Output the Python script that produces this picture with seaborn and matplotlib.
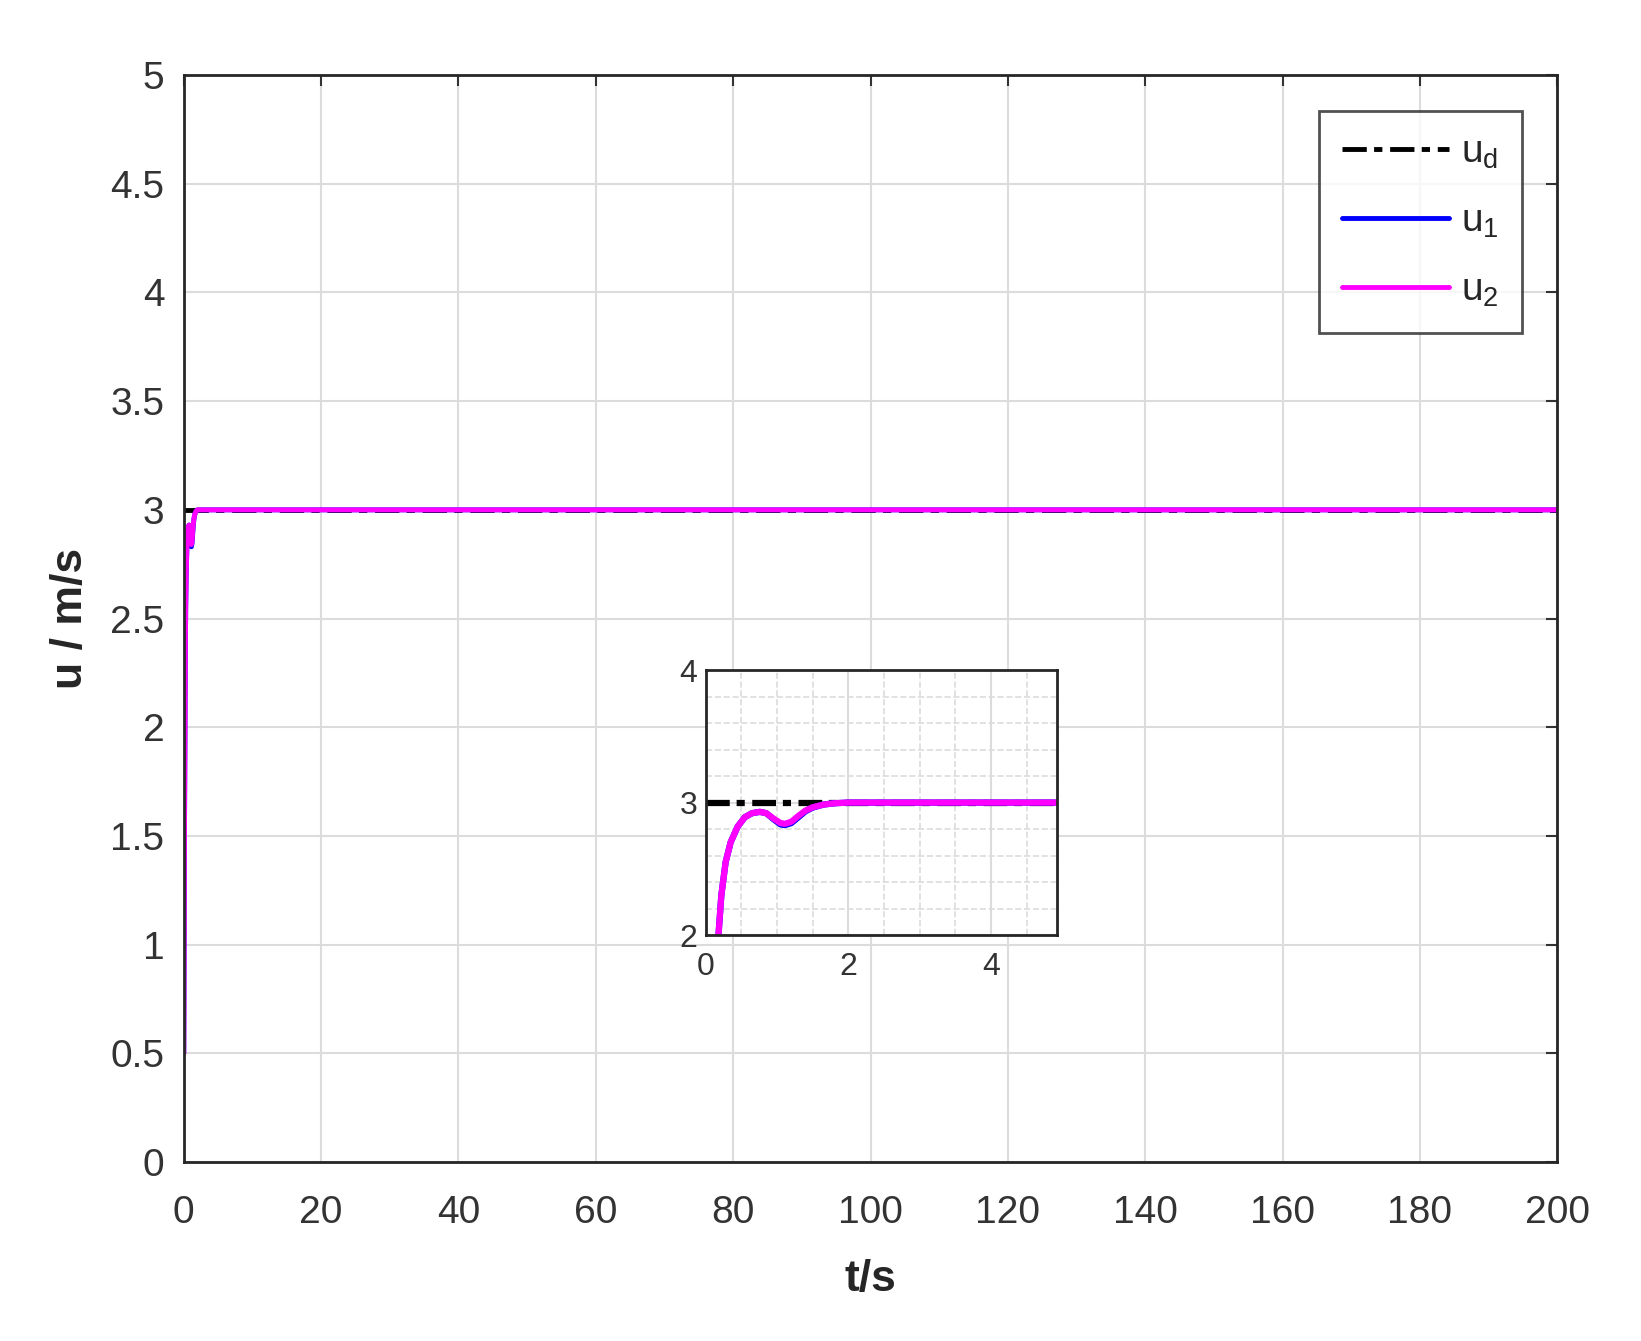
"""
Velocidad u vs tiempo con ampliacion del transitorio
"""

import numpy as np
import pandas as pd
import matplotlib
matplotlib.use('Agg')
import matplotlib.pyplot as plt
import seaborn as sns
from matplotlib.ticker import MultipleLocator

sns.set_style("whitegrid")
plt.rcParams['font.family'] = ['Liberation Sans', 'DejaVu Sans']
plt.rcParams['mathtext.fontset'] = 'custom'
plt.rcParams['mathtext.rm'] = 'Liberation Sans'

# datos
t_d = [0.0, 200.0]
u_d = [3.0, 3.0]

t_1 = [0.0, 0.05, 0.1, 0.18, 0.22, 0.28, 0.35, 0.45, 0.55, 0.65, 0.76, 0.85,
       0.95, 1.05, 1.11, 1.2, 1.3, 1.4, 1.5, 1.65, 1.8, 2.0, 200.0]
u_1 = [0.5, 1.0, 1.5, 2.0, 2.3, 2.55, 2.7, 2.82, 2.89, 2.92, 2.93, 2.92,
       2.875, 2.835, 2.83, 2.845, 2.89, 2.935, 2.962, 2.985, 2.995, 3.0, 3.0]

t_2 = [0.0, 0.05, 0.1, 0.18, 0.22, 0.28, 0.35, 0.45, 0.55, 0.65, 0.76, 0.85,
       0.95, 1.05, 1.11, 1.2, 1.3, 1.4, 1.5, 1.65, 1.8, 2.0, 200.0]
u_2 = [0.5, 1.0, 1.5, 2.0, 2.3, 2.55, 2.7, 2.82, 2.89, 2.92, 2.93, 2.92,
       2.88, 2.845, 2.84, 2.855, 2.9, 2.94, 2.965, 2.985, 2.995, 3.0, 3.0]

x_ticks = list(range(0, 201, 20))
y_ticks = [0, 0.5, 1, 1.5, 2, 2.5, 3, 3.5, 4, 4.5, 5]
y_tick_labels = ['0', '0.5', '1', '1.5', '2', '2.5', '3', '3.5', '4', '4.5', '5']

labels = [r'$\mathregular{u_d}$', r'$\mathregular{u_1}$', r'$\mathregular{u_2}$']
colors = ['black', '#0000ff', '#ff00ff']

edge = '#262626'
grid_c = '#dcdcdc'


def dibujar(ax, lw, dash, legend):
    datos = [(t_d, u_d), (t_1, u_1), (t_2, u_2)]
    for i, (t, u) in enumerate(datos):
        df = pd.DataFrame({'t': t, 'u': u})
        ls = (0, dash) if i == 0 else '-'
        sns.lineplot(data=df, x='t', y='u', ax=ax, color=colors[i], linestyle=ls,
                     linewidth=lw, label=labels[i] if legend else None,
                     estimator=None, sort=False, legend=legend)


fig = plt.figure(figsize=(16.41, 13.41), dpi=100)
ax = fig.add_axes([0.112, 0.1335, 0.837, 0.8105])
dibujar(ax, 3.5, (5.0, 1.5, 1.7, 1.6), True)

ax.set_xlim(0, 200)
ax.set_ylim(0, 5)
ax.set_xticks(x_ticks)
ax.set_yticks(y_ticks)
ax.set_yticklabels(y_tick_labels)
ax.tick_params(labelsize=28, colors='#333333', direction='in', length=8,
               width=1.5, top=True, right=True, pad=14)
ax.tick_params(axis='x', pad=24)
ax.grid(True, color=grid_c, linewidth=1.5)
for s in ax.spines.values():
    s.set_color(edge)
    s.set_linewidth(2)
ax.set_xlabel('t/s', fontsize=32, fontweight='bold', labelpad=20)
ax.set_ylabel('u / m/s', fontsize=32, fontweight='bold', labelpad=14)

leg = ax.legend(loc='upper right', fontsize=28, frameon=True, fancybox=False,
                edgecolor=edge, handlelength=2.75, handletextpad=0.3,
                labelspacing=0.85, borderpad=0.6, borderaxespad=0,
                bbox_to_anchor=(0.9745, 0.967))
leg.get_frame().set_linewidth(2)

# ampliacion
axi = fig.add_axes([0.430, 0.3027, 0.214, 0.1976])
dibujar(axi, 4.5, (3.8, 1.1, 1.3, 1.2), False)
axi.set_xlim(0, 4.92)
axi.set_ylim(2, 4)
axi.set_xticks([0, 2, 4])
axi.set_yticks([2, 3, 4])
axi.xaxis.set_minor_locator(MultipleLocator(0.5))
axi.yaxis.set_minor_locator(MultipleLocator(0.2))
axi.grid(True, which='major', color=grid_c, linewidth=1.5)
axi.grid(True, which='minor', color=grid_c, linewidth=1.2, linestyle='--')
axi.set_facecolor('white')
axi.set_xlabel('')
axi.set_ylabel('')
axi.tick_params(labelsize=23, colors='#333333', length=0)
axi.tick_params(axis='x', pad=12)
axi.tick_params(axis='y', pad=6)
for s in axi.spines.values():
    s.set_color(edge)
    s.set_linewidth(2)

fig.savefig('out.png', dpi=100)
